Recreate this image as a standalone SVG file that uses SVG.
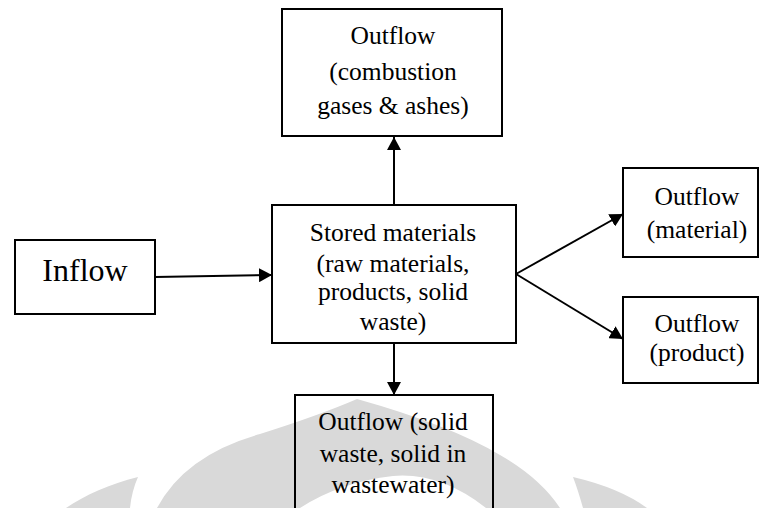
<svg xmlns="http://www.w3.org/2000/svg" width="759" height="508" viewBox="0 0 759 508">
  <style>
    .box { fill: #ffffff; stroke: #000000; stroke-width: 2; }
    .clear { fill: none; stroke: #000000; stroke-width: 2; }
    .t { font-family: "Liberation Serif", "Times New Roman", serif; font-size: 25.5px; fill: #000000; text-anchor: middle; }
    .big { font-size: 32px; }
    .edge { stroke: #000000; stroke-width: 2; fill: none; marker-end: url(#arrow); }
    .wm { fill: #d9d9d9; stroke: none; }
  </style>
  <defs>
    <marker id="arrow" markerUnits="userSpaceOnUse" markerWidth="14" markerHeight="14" refX="13" refY="7" orient="auto">
      <path d="M0,0 L13,7 L0,14 Z" fill="#000000"/>
    </marker>
    <clipPath id="storedClip">
      <rect x="272" y="205" width="244" height="133"/>
    </clipPath>
  </defs>

  <rect width="759" height="508" fill="#ffffff"/>

  <g id="watermark">
    <path class="wm" d="M138,477 C110,484 85,495 66,508 L130,508 C131,497 134,486 138,477 Z"/>
    <path class="wm" d="M157,508 Q185,455 260,434 Q320,415 357,399 Q450,425 500,455 Q540,478 560,508 L486,508 Q440,472 393,476 Q340,482 300,508 Z"/>
    <path class="wm" d="M573,477 Q620,488 647,508 L583,508 Q578,490 573,477 Z"/>
  </g>

  <g id="connectors">
    <line class="edge" x1="155" y1="277" x2="272" y2="275"/>
    <line class="edge" x1="394" y1="205" x2="394" y2="137"/>
    <line class="edge" x1="394" y1="343" x2="394" y2="395"/>
    <line class="edge" x1="516" y1="274" x2="623" y2="214"/>
    <line class="edge" x1="516" y1="274" x2="623" y2="339"/>
  </g>

  <g id="node-combustion">
    <rect class="box" x="282" y="9" width="220" height="127"/>
    <text class="t" x="393" y="43.5">Outflow</text>
    <text class="t" x="393" y="80">(combustion</text>
    <text class="t" x="393" y="114">gases &amp; ashes)</text>
  </g>

  <g id="node-inflow">
    <rect class="box" x="15" y="240" width="140" height="74"/>
    <text class="t big" x="85" y="281">Inflow</text>
  </g>

  <g id="node-stored">
    <rect class="box" x="272" y="205" width="244" height="138"/>
    <g clip-path="url(#storedClip)">
      <text class="t" x="393" y="241">Stored materials</text>
      <text class="t" x="393" y="272">(raw materials,</text>
      <text class="t" x="393" y="300">products, solid</text>
      <text class="t" x="393" y="330">waste)</text>
    </g>
  </g>

  <g id="node-material">
    <rect class="box" x="623" y="168" width="135" height="89"/>
    <text class="t" x="697" y="205">Outflow</text>
    <text class="t" x="697" y="238">(material)</text>
  </g>

  <g id="node-product">
    <rect class="box" x="623" y="297" width="135" height="86"/>
    <text class="t" x="697" y="332">Outflow</text>
    <text class="t" x="697" y="361">(product)</text>
  </g>

  <g id="node-solid">
    <rect class="clear" x="295" y="395" width="198" height="125"/>
    <text class="t" x="393" y="430">Outflow (solid</text>
    <text class="t" x="393" y="462">waste, solid in</text>
    <text class="t" x="393" y="493">wastewater)</text>
  </g>
</svg>
